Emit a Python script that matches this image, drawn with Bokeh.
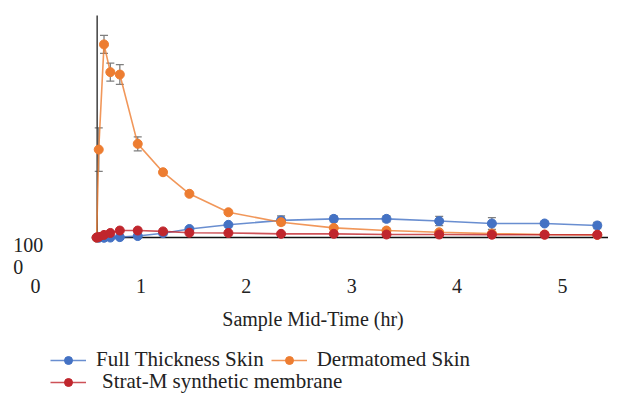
from bokeh.plotting import figure
from bokeh.models import (ColumnDataSource, Whisker, TeeHead, Legend, LegendItem,
                          Label, Range1d)
from bokeh.core.properties import value
from bokeh.embed import file_html
from bokeh.resources import INLINE

# ---- data ----
time_hr = [0.58, 0.60, 0.65, 0.71, 0.80, 0.97, 1.21, 1.46, 1.83, 2.33,
           2.83, 3.33, 3.83, 4.33, 4.83, 5.33]
full_thickness = [136, 135, 135, 136, 138, 143, 156, 175, 194, 214,
                  221, 221, 211, 200, 200, 191]
full_thickness_err = [0, 0, 0, 0, 0, 0, 0, 0, 0, 20,
                      14, 14, 21, 27, 9, 14]
dermatomed = [136, 536, 1014, 888, 877, 562, 433, 335, 251, 206,
              180, 168, 160, 154, 150, 148]
dermatomed_err = [0, 99, 41, 41, 45, 32, 0, 0, 0, 0,
                  0, 0, 0, 0, 0, 0]
strat_m = [136, 139, 148, 157, 168, 168, 164, 158, 157, 153,
           153, 150, 150, 149, 149, 149]

x_tick_values = [0, 1, 2, 3, 4, 5]
x_tick_labels = ["0", "1", "2", "3", "4", "5"]
y_tick_values = [100, 0]
y_tick_labels = ["100", "0"]
x_title = "Sample Mid-Time (hr)"
series_names = ["Full Thickness Skin", "Dermatomed Skin", "Strat-M synthetic membrane"]

# axis crossing / layout constants
x_cross = 0.585
y_cross = 136
y_axis_top = 1145
x_axis_end = 5.6
x_label_y = -82
y_label_x = -0.212
title_x = 2.633
title_y = -232

BLUE = "#4472C4"
ORANGE = "#ED7D31"
RED = "#C0262D"
FONT = "Liberation Serif"
TEXT_COLOR = "#222222"

p = figure(width=608, height=394,
           x_range=Range1d(-0.3321, 5.4364), y_range=Range1d(-577.3, 1213.6),
           x_axis_type=None, y_axis_type=None,
           output_backend="svg", toolbar_location=None, min_border=0)
p.grid.visible = False
p.outline_line_color = None
p.background_fill_color = "white"
p.border_fill_color = "white"

# axis lines
p.segment(x0=[x_cross], y0=[y_cross], x1=[x_cross], y1=[y_axis_top],
          line_color="#404040", line_width=1.5)
p.segment(x0=[x_cross], y0=[y_cross], x1=[x_axis_end], y1=[y_cross],
          line_color="#111111", line_width=1.5)

def add_errors(ys, errs):
    xs = [t for t, e in zip(time_hr, errs) if e > 0]
    up = [y + e for y, e in zip(ys, errs) if e > 0]
    lo = [y - e for y, e in zip(ys, errs) if e > 0]
    src = ColumnDataSource(dict(x=xs, upper=up, lower=lo))
    w = Whisker(base="x", upper="upper", lower="lower", source=src,
                line_color="#7f7f7f", line_width=1.3,
                upper_head=TeeHead(size=8, line_color="#7f7f7f", line_width=1.3),
                lower_head=TeeHead(size=8, line_color="#7f7f7f", line_width=1.3))
    p.add_layout(w)

add_errors(full_thickness, full_thickness_err)
add_errors(dermatomed, dermatomed_err)

renderers = []
for ys, col in [(full_thickness, BLUE), (dermatomed, ORANGE), (strat_m, RED)]:
    l = p.line(time_hr, ys, line_color=col, line_width=1.6, line_alpha=0.8)
    s = p.scatter(time_hr, ys, marker="circle", size=9, fill_color=col, line_color=col)
    renderers.append((l, s))

# tick labels
p.text(x=x_tick_values, y=[x_label_y] * len(x_tick_values), text=x_tick_labels,
       text_font=value(FONT), text_font_size="20px", text_color=TEXT_COLOR,
       text_align="center", text_baseline="middle")
p.text(x=[y_label_x] * len(y_tick_values), y=y_tick_values, text=y_tick_labels,
       text_font=value(FONT), text_font_size="20px", text_color=TEXT_COLOR,
       text_align="left", text_baseline="middle")

p.add_layout(Label(x=title_x, y=title_y, text=x_title, text_font=FONT,
                   text_font_size="20px", text_color=TEXT_COLOR,
                   text_align="center", text_baseline="middle"))

leg_common = dict(glyph_width=36, glyph_height=20, padding=0, margin=0,
                  border_line_color=None, background_fill_alpha=0,
                  label_text_font=FONT, label_text_font_size="21px",
                  label_text_color=TEXT_COLOR, label_text_baseline="middle")

leg1 = Legend(items=[LegendItem(label=series_names[0], renderers=list(renderers[0])),
                     LegendItem(label=series_names[1], renderers=list(renderers[1]))],
              orientation="horizontal", location=(50, 22), spacing=7,
              label_standoff=10, **leg_common)
leg2 = Legend(items=[LegendItem(label=series_names[2], renderers=list(renderers[2]))],
              orientation="horizontal", location=(50, 0),
              label_standoff=16, **leg_common)
p.add_layout(leg1)
p.add_layout(leg2)

open("out.html", "w").write(file_html(p, INLINE))
